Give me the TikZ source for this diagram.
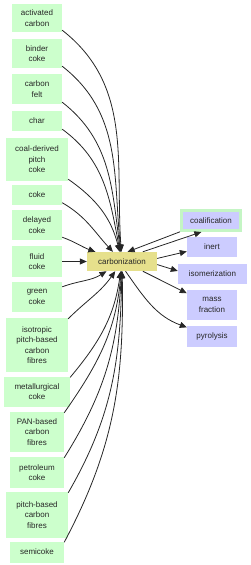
\documentclass[tikz,border=0pt]{standalone}
\usepackage{fontspec}
\setmainfont{Liberation Sans}
\usetikzlibrary{arrows.meta}
\definecolor{lgreen}{HTML}{CCFFCC}
\definecolor{lav}{HTML}{CCCCFF}
\definecolor{khaki}{HTML}{E6E08C}
\definecolor{selgreen}{HTML}{C4F5C4}
\begin{document}
\begin{tikzpicture}[x=1pt,y=-1pt,
  base/.style={rectangle, inner sep=0pt, align=center, font=\fontsize{8}{10.5}\selectfont, text=black!85},
  lnode/.style={base, fill=lgreen},
  rnode/.style={base, fill=lav},
  cnode/.style={base, fill=khaki},
  edge/.style={draw=black!85, line width=0.8pt, -{Triangle[length=7pt,width=6pt]}}
]
\useasboundingbox (0,0) rectangle (250,565);
% left nodes
\node[lnode, minimum width=50pt, minimum height=28pt] (ac) at (37,18) {activated\\carbon};
\node[lnode, minimum width=50pt, minimum height=29pt] (bc) at (37,53.5) {binder\\coke};
\node[lnode, minimum width=50pt, minimum height=30pt] (cf) at (37,89) {carbon\\felt};
\node[lnode, minimum width=50pt, minimum height=20pt] (ch) at (37,121) {char};
\node[lnode, minimum width=62pt, minimum height=43pt] (cd) at (37,159.5) {coal-derived\\pitch\\coke};
\node[lnode, minimum width=50pt, minimum height=20pt] (ck) at (37,194.5) {coke};
\node[lnode, minimum width=50pt, minimum height=30pt] (dc) at (37,225) {delayed\\coke};
\node[lnode, minimum width=50pt, minimum height=31pt] (fc) at (37,261.5) {fluid\\coke};
\node[lnode, minimum width=50pt, minimum height=30pt] (gc) at (37,297) {green\\coke};
\node[lnode, minimum width=62pt, minimum height=54pt] (ip) at (37,345) {isotropic\\pitch-based\\carbon\\fibres};
\node[lnode, minimum width=66pt, minimum height=30pt] (mc) at (37,391.5) {metallurgical\\coke};
\node[lnode, minimum width=54pt, minimum height=40pt] (pan) at (37,432) {PAN-based\\carbon\\fibres};
\node[lnode, minimum width=54pt, minimum height=31pt] (pc) at (37,472.5) {petroleum\\coke};
\node[lnode, minimum width=62pt, minimum height=46pt] (pb) at (37,515) {pitch-based\\carbon\\fibres};
\node[lnode, minimum width=54pt, minimum height=21pt] (sc) at (37,552) {semicoke};
% center
\node[cnode, minimum width=70pt, minimum height=19pt] (c) at (122,261.5) {carbonization};
% right nodes
\node[rnode, draw=selgreen, line width=3pt, minimum width=59pt, minimum height=20pt] (coal) at (211,220.5) {coalification};
\node[rnode, minimum width=50pt, minimum height=20pt] (in) at (212,247) {inert};
\node[rnode, minimum width=69pt, minimum height=20pt] (iso) at (212.5,274) {isomerization};
\node[rnode, minimum width=50pt, minimum height=30pt] (mf) at (212,305) {mass\\fraction};
\node[rnode, minimum width=50pt, minimum height=21pt] (py) at (212,336.5) {pyrolysis};
% edges into carbonization
\draw[edge] ([yshift=2pt]ac.south east) to[out=-38,in=94] (c);
\draw[edge] ([yshift=2pt]bc.south east) to[out=-38,in=96] (c);
\draw[edge] ([yshift=2pt]cf.south east) to[out=-38,in=98] (c);
\draw[edge] ([yshift=2pt]ch.south east) to[out=-36,in=101] (c);
\draw[edge] ([yshift=2pt]cd.south east) to[out=-35,in=104] (c);
\draw[edge] ([yshift=2pt]ck.south east) to[out=-30,in=133] (c);
\draw[edge] ([yshift=3pt]dc.south east) to[out=-20,in=160] (c);
\draw[edge] (fc) -- (c);
\draw[edge] ([yshift=-5pt]gc.north east) to[out=20,in=212] (c);
\draw[edge] ([yshift=-1pt]ip.north east) to[out=45,in=235] (c);
\draw[edge] ([yshift=-1pt]mc.north east) to[out=50,in=262] (c);
\draw[edge] ([yshift=-1pt]pan.north east) to[out=55,in=265] (c);
\draw[edge] ([yshift=-1pt]pc.north east) to[out=58,in=267] (c);
\draw[edge] ([yshift=-1pt]pb.north east) to[out=60,in=269] (c);
\draw[edge] ([yshift=-1pt]sc.north east) to[out=62,in=271] (c);
% edges out of carbonization
\draw[edge] (c.25) -- (coal.230);
\draw[edge] (coal.200) -- (c.60);
\draw[edge] (c.5) -- (in.190);
\draw[edge] (c.-5) -- (iso.175);
\draw[edge] (c.-25) -- (mf.155);
\draw[edge] (c.-70) to[out=-55,in=160] (py);
\end{tikzpicture}
\end{document}
